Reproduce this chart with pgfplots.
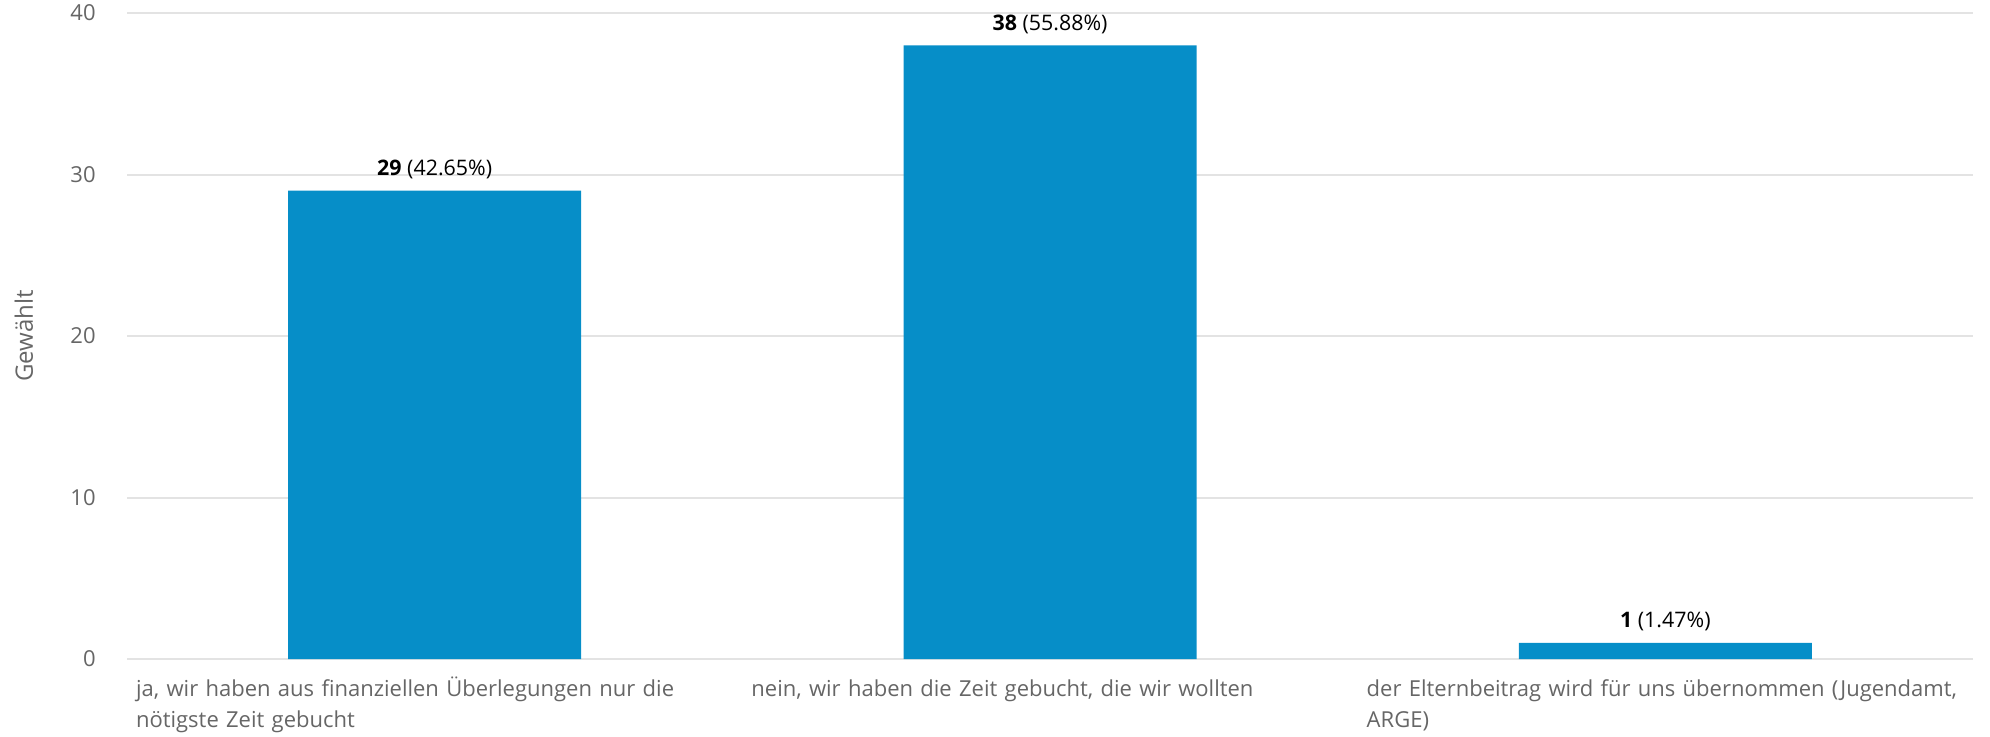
\documentclass[border=0pt]{standalone}
\usepackage{pgfplots}
\pgfplotsset{compat=1.18}
\usepackage{fontspec}
\setmainfont{Open Sans}
\definecolor{barblue}{HTML}{068EC8}
\definecolor{gridgray}{HTML}{E3E3E3}
\definecolor{labgray}{HTML}{666666}
\begin{document}
\begin{tikzpicture}
\begin{axis}[
  at={(0,0)}, anchor=south west,
  scale only axis, width=923pt, height=323pt,
  xmin=-0.5, xmax=2.5, ymin=0, ymax=40,
  ytick={0,10,20,30,40},
  xtick={0,1,2},
  xticklabels={{ja, wir haben aus finanziellen Überlegungen nur die\\nötigste Zeit gebucht},{nein, wir haben die Zeit gebucht, die wir wollten},{der Elternbeitrag wird für uns übernommen (Jugendamt,\\ARGE)}},
  ymajorgrids,
  major grid style={gridgray, line width=1pt},
  axis line style={draw=none},
  major tick length=0pt,
  tick style={draw=none},
  /pgf/number format/assume math mode=true,
  yticklabel style={font=\fontsize{11}{13}\selectfont, text=labgray, anchor=east, inner sep=0pt, xshift=-15.5pt},
  xticklabel style={font=\fontsize{11}{15.3}\selectfont, text=labgray, anchor=north west, align=left, text width=330pt, inner sep=0pt, xshift=-149.5pt, yshift=-8.5pt, execute at begin node={\rule{0pt}{10pt}}},
  ylabel={Gewählt},
  ylabel style={at={(axis description cs:-0.0558,0.5)}, anchor=center, font=\fontsize{12}{14}\selectfont, text=labgray},
  ybar, bar width=146.5pt,
  point meta=explicit symbolic,
  nodes near coords,
  every node near coord/.append style={font=\fontsize{10.7}{12}\selectfont, text=black, anchor=base, inner sep=0pt, yshift=7.5pt},
]
\addplot[fill=barblue, draw=none] coordinates {(0,29) [\textbf{29} (42.65\%)] (1,38) [\textbf{38} (55.88\%)] (2,1) [\textbf{1} (1.47\%)]};
\end{axis}
\pgfresetboundingbox
\path (-63.5pt,-38.5pt) rectangle (931.5pt,329.5pt);
\end{tikzpicture}
\end{document}
